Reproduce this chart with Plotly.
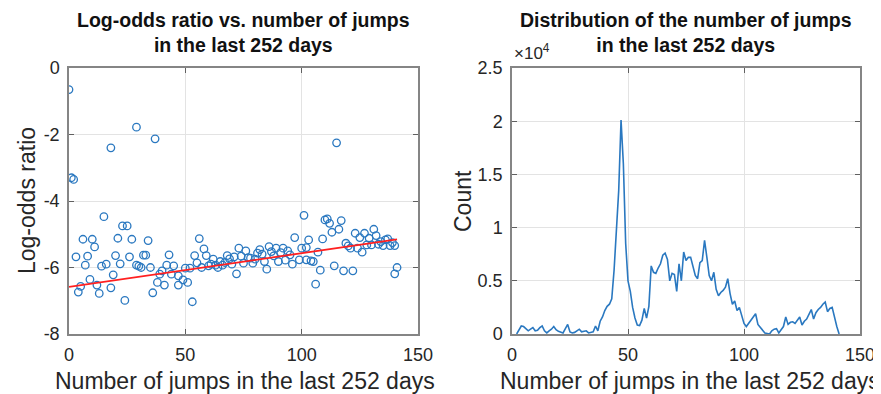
import plotly.graph_objects as go

# ---------------- data ----------------
# Left panel: log-odds ratio vs number of jumps (scatter)
jumps_scatter = [0, 1, 2, 18, 29, 37, 115,
                 15, 23, 25, 6, 10, 11, 21, 27, 34, 3, 8, 20, 26, 32, 33, 43, 7, 14, 16, 22, 29, 30, 31, 35,
                 42, 45, 40, 50, 19, 9, 5, 12, 18, 38, 41, 39, 47, 4, 13, 36, 24,
                 101, 56, 58, 54, 59, 55, 52, 51, 53, 60, 61, 63, 65, 66, 68, 69, 71, 73, 74, 76, 75, 78, 79,
                 81, 82, 84, 85, 86, 87, 89, 90, 92, 93, 95, 97, 96, 99, 100, 102, 72,
                 110, 111, 112, 117, 116, 113, 103, 109, 102, 107, 104, 105, 108, 106, 114, 118, 122, 119, 121,
                 123, 125, 124, 126, 127, 128, 129, 131, 132, 130, 134, 135, 136, 137, 138, 140, 141, 140,
                 57, 62, 64, 67, 70, 77, 80, 83, 88, 91, 94, 120, 133, 139, 47, 49, 44]
log_odds = [-0.65, -3.3, -3.35, -2.4, -1.78, -2.13, -2.25,
            -4.47, -4.75, -4.75, -5.15, -5.15, -5.38, -5.12, -5.15, -5.19, -5.68, -5.66, -5.64, -5.68, -5.63,
            -5.63, -5.62, -5.93, -5.96, -5.9, -5.89, -5.93, -5.96, -6.0, -6.0,
            -5.93, -5.95, -6.1, -6.02, -6.22, -6.36, -6.57, -6.53, -6.61, -6.45, -6.53, -6.2, -6.53, -6.74,
            -6.78, -6.76, -6.99,
            -4.43, -5.13, -5.44, -5.64, -5.64, -5.86, -6.02, -6.45, -7.03, -5.95, -5.9, -5.93, -5.82, -5.93,
            -5.64, -5.74, -5.68, -5.42, -5.66, -5.5, -5.87, -5.72, -5.87,
            -5.57, -5.46, -5.82, -6.05, -5.37, -5.52, -5.42, -5.82, -5.42, -5.78, -5.62, -5.1, -5.9, -5.77,
            -5.42, -5.77, -6.19,
            -4.57, -4.54, -4.67, -4.59, -4.85, -4.94, -5.17, -5.14, -5.4, -5.54, -5.8, -5.82, -6.08, -6.5,
            -5.95, -6.1, -6.1, -5.27, -5.42,
            -4.97, -5.1, -5.42, -5.54, -4.97, -5.32, -5.12, -4.85, -5.04, -5.32, -5.22, -5.34, -5.17, -5.14,
            -5.34, -5.34, -6.0, -6.19,
            -6.0, -5.75, -6.0, -5.85, -5.9, -5.7, -5.75, -5.6, -5.65, -5.55, -5.5, -5.35, -5.3, -5.25,
            -6.25, -6.37, -6.2]

# Linear fit (intercept, slope) and its x extent
fit_intercept = -6.58
fit_slope = 0.0101
fit_x = [0, 141]

# Right panel: distribution of number of jumps
jumps_hist = list(range(2, 142))
counts_1e4 = [0, 0.04, 0.075, 0.07, 0.05, 0.03, 0.045, 0.06, 0.03, 0.035, 0.06, 0.075, 0.03, 0.01, 0.03,
              0.045, 0.07, 0.04, 0.025, 0.02, 0.01, 0.05, 0.09, 0.02, 0.01, 0.015, 0.03, 0.045, 0.02, 0.025,
              0.03, 0.01, 0.015, 0.02, 0.075, 0.03, 0.12, 0.16, 0.22, 0.26, 0.28, 0.33, 0.6, 0.95, 1.35,
              2.01, 1.6, 0.85, 0.5, 0.4, 0.25, 0.15, 0.085, 0.08, 0.13, 0.24, 0.15, 0.26, 0.64, 0.58, 0.57,
              0.62, 0.66, 0.74, 0.76, 0.7, 0.5, 0.57, 0.56, 0.4, 0.66, 0.5, 0.77, 0.69, 0.72, 0.72, 0.64,
              0.55, 0.52, 0.67, 0.69, 0.88, 0.72, 0.55, 0.5, 0.58, 0.42, 0.36, 0.39, 0.41, 0.44, 0.52, 0.38,
              0.28, 0.31, 0.22, 0.25, 0.17, 0.1, 0.07, 0.1, 0.14, 0.17, 0.19, 0.09, 0.06, 0.04, 0.01, 0.005,
              0, 0.03, 0.045, 0.05, 0.01, 0.04, 0.07, 0.16, 0.09, 0.11, 0.115, 0.1, 0.13, 0.16, 0.085, 0.12,
              0.14, 0.18, 0.23, 0.14, 0.2, 0.23, 0.25, 0.28, 0.3, 0.21, 0.24, 0.25, 0.15, 0.07, 0]
counts = [c * 1e4 for c in counts_1e4]

x_ticks = [0, 50, 100, 150]
y_left_ticks = [-8, -6, -4, -2, 0]
y_right_ticks = [0, 5000, 10000, 15000, 20000, 25000]
y_right_ticktext = ["0", "0.5", "1", "1.5", "2", "2.5"]

# ---------------- figure ----------------
# The page body has an 8px default margin, so the figure is sized to fit the window
# and all layout positions (given in window pixels) are offset by it.
OFF = 8
W, H = 881 - OFF, 394 - OFF
BLUE = "#2a78c0"
FONT = "Liberation Sans, Arial, sans-serif"

fit_y = [fit_intercept + fit_slope * x for x in fit_x]

fig = go.Figure()
fig.add_trace(go.Scatter(x=jumps_scatter, y=log_odds, mode="markers",
                         marker=dict(symbol="circle-open", size=7.5, color=BLUE, line=dict(width=1.3, color=BLUE)),
                         xaxis="x", yaxis="y", showlegend=False))
fig.add_trace(go.Scatter(x=fit_x, y=fit_y, mode="lines", line=dict(color="#ff2020", width=1.8),
                         xaxis="x", yaxis="y", showlegend=False))
fig.add_trace(go.Scatter(x=jumps_hist, y=counts, mode="lines", line=dict(color=BLUE, width=1.6),
                         xaxis="x2", yaxis="y2", showlegend=False))

def px_x(p):
    return (p - OFF) / W

def px_y(p):
    return 1 - (p - OFF) / H

axis_common = dict(showline=True, linecolor="#858585", linewidth=1.5, mirror="allticks",
                   ticks="inside", ticklen=5, tickcolor="#606060", tickwidth=1,
                   showgrid=True, gridcolor="#e3e3e3", gridwidth=1, zeroline=False, automargin=False,
                   tickfont=dict(family=FONT, size=18, color="#262626"))

fig.update_layout(
    width=W, height=H, margin=dict(l=0, r=0, t=0, b=0, autoexpand=False),
    paper_bgcolor="white", plot_bgcolor="white",
    font=dict(family=FONT, color="#262626"),
    xaxis=dict(domain=[px_x(69), px_x(418)], range=[0, 150], tickvals=x_ticks,
               ticklabelstandoff=4, anchor="y", **axis_common),
    yaxis=dict(domain=[px_y(334), px_y(68)], range=[-8, 0], tickvals=y_left_ticks,
               ticktext=[str(v) for v in y_left_ticks], ticklabelstandoff=4, anchor="x", **axis_common),
    xaxis2=dict(domain=[px_x(512), px_x(860)], range=[0, 150], tickvals=x_ticks,
                ticklabelstandoff=4, anchor="y2", **axis_common),
    yaxis2=dict(domain=[px_y(334), px_y(68)], range=[0, 25000], tickvals=y_right_ticks,
                ticktext=y_right_ticktext, ticklabelstandoff=4, anchor="x2", **axis_common),
)

ann = []
ann.append(dict(text="<b>Log-odds ratio vs. number of jumps<br>in the last 252 days</b>",
                x=px_x(243.5), y=px_y(32), xref="paper", yref="paper", showarrow=False,
                xanchor="center", yanchor="middle", font=dict(family=FONT, size=19.5, color="#111")))
ann.append(dict(text="<b>Distribution of the number of jumps<br>in the last 252 days</b>",
                x=px_x(686), y=px_y(32), xref="paper", yref="paper", showarrow=False,
                xanchor="center", yanchor="middle", font=dict(family=FONT, size=19.5, color="#111")))
ann.append(dict(text="Number of jumps in the last 252 days", x=px_x(245), y=px_y(381),
                xref="paper", yref="paper", showarrow=False, xanchor="center", yanchor="middle",
                font=dict(family=FONT, size=23, color="#262626")))
ann.append(dict(text="Number of jumps in the last 252 days", x=px_x(498), y=px_y(381),
                xref="paper", yref="paper", showarrow=False, xanchor="left", yanchor="middle",
                font=dict(family=FONT, size=23, color="#262626")))
ann.append(dict(text="Log-odds ratio", x=px_x(27), y=px_y(201), xref="paper", yref="paper",
                showarrow=False, textangle=-90, xanchor="center", yanchor="middle",
                font=dict(family=FONT, size=23, color="#262626")))
ann.append(dict(text="Count", x=px_x(463), y=px_y(201), xref="paper", yref="paper",
                showarrow=False, textangle=-90, xanchor="center", yanchor="middle",
                font=dict(family=FONT, size=23, color="#262626")))
ann.append(dict(text="×10<sup>4</sup>", x=px_x(512), y=px_y(52), xref="paper", yref="paper",
                showarrow=False, xanchor="left", yanchor="middle",
                font=dict(family=FONT, size=17, color="#262626")))
fig.update_layout(annotations=ann)

fig.write_html("out.html")
